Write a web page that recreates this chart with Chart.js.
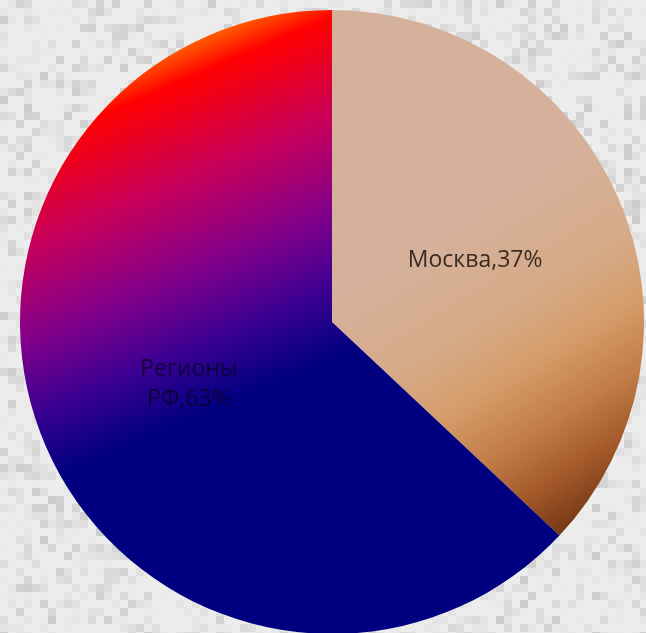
<!DOCTYPE html>
<html>
<head>
<meta charset="utf-8">
<script src="https://cdn.jsdelivr.net/npm/chart.js@4"></script>
<style>
  html, body { margin: 0; padding: 0; overflow: hidden; background: #e6e6e6; }
  #wrap { width: 646px; height: 660px; }
</style>
</head>
<body>
<div id="wrap"><canvas id="myChart" width="646" height="660"></canvas></div>
<script>
// Data
const regions = ['Москва', 'Регионы РФ'];
const shares = [37, 63];
const labelLines = [['Москва,37%'], ['Регионы', 'РФ,63%']];

// gradient fill for each slice, built on the chart area
function sliceFill(context) {
    const chart = context.chart;
    const area = chart.chartArea;
    if (!area) return '#888';
    const c = chart.ctx;
    const x0 = area.left, y0 = area.top;
    const w = area.right - area.left;
    if (context.dataIndex === 0) {
        const g = c.createLinearGradient(x0 + w * 0.64, y0 + w * 0.38, x0 + w * 0.915, y0 + w * 0.83);
        g.addColorStop(0, '#d5b19c');
        g.addColorStop(0.3, '#d6aa87');
        g.addColorStop(0.48, '#d59d6a');
        g.addColorStop(0.66, '#c27d48');
        g.addColorStop(0.82, '#a3582a');
        g.addColorStop(1, '#6a3210');
        return g;
    }
    const g = c.createLinearGradient(x0 + w * 0.24, y0 + w * 0.05, x0 + w * 0.5, y0 + w * 0.66);
    g.addColorStop(0, '#ff7a00');
    g.addColorStop(0.1, '#ff0000');
    g.addColorStop(0.32, '#c8005a');
    g.addColorStop(0.53, '#82008a');
    g.addColorStop(0.7, '#3c0092');
    g.addColorStop(0.86, '#000080');
    g.addColorStop(1, '#000080');
    return g;
}

// speckled grey backdrop
const backdrop = {
    id: 'backdrop',
    beforeDraw(chart) {
        const c = chart.ctx;
        const s = 8;
        for (let y = 0; y < chart.height; y += s) {
            for (let x = 0; x < chart.width; x += s) {
                const h = Math.abs(Math.sin(x * 12.9898 + y * 78.233) * 43758.5453) % 1;
                const v = Math.round(236 - Math.pow(h, 3) * 40 + h * 8);
                c.fillStyle = 'rgb(' + v + ',' + v + ',' + v + ')';
                c.fillRect(x, y, s, s);
            }
        }
    }
};

// slice labels at the middle of each arc
const sliceLabels = {
    id: 'sliceLabels',
    afterDatasetsDraw(chart) {
        const c = chart.ctx;
        const meta = chart.getDatasetMeta(0);
        c.save();
        c.textAlign = 'center';
        c.textBaseline = 'middle';
        meta.data.forEach((arc, i) => {
            const p = arc.tooltipPosition();
            const lines = labelLines[i];
            const lh = 30;
            c.font = '23px "Open Sans", sans-serif';
            c.fillStyle = i === 0 ? '#3a2a22' : 'rgba(10,0,40,0.8)';
            lines.forEach((t, k) => {
                c.fillText(t, p.x, p.y + (k - (lines.length - 1) / 2) * lh);
            });
        });
        c.restore();
    }
};

const ctx = document.getElementById('myChart').getContext('2d');

new Chart(ctx, {
    type: 'pie',
    data: {
        labels: regions,
        datasets: [{
            data: shares,
            backgroundColor: sliceFill,
            borderWidth: 0,
            hoverOffset: 0
        }]
    },
    options: {
        responsive: false,
        animation: false,
        events: [],
        layout: { padding: { left: 20, right: 2, top: 10, bottom: 26 } },
        plugins: {
            legend: { display: false },
            tooltip: { enabled: false }
        }
    },
    plugins: [backdrop, sliceLabels]
});
</script>
</body>
</html>
